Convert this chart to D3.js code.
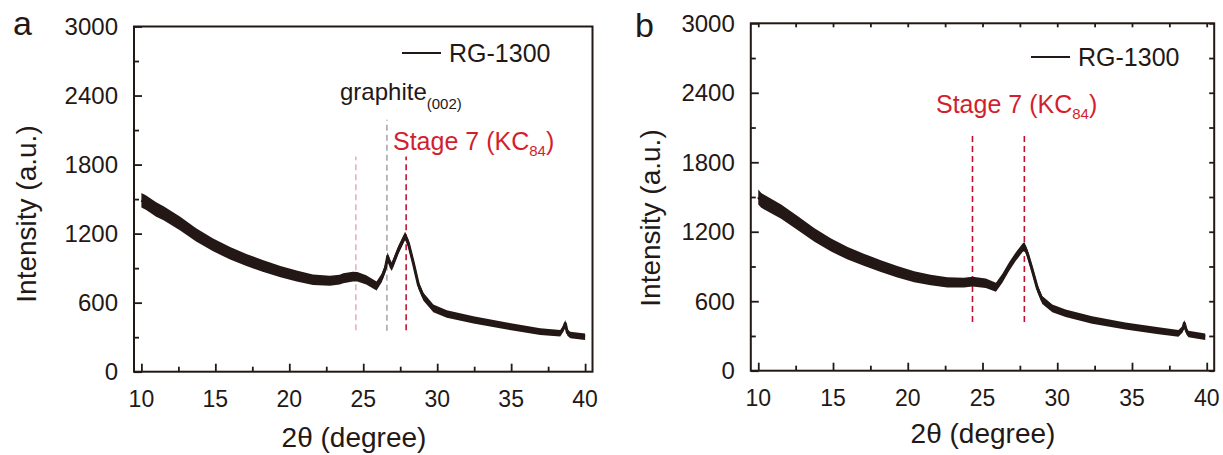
<!DOCTYPE html>
<html>
  <head>
    <meta charset="utf-8">
    <title>XRD RG-1300</title>
    <script src="https://cdn.jsdelivr.net/npm/d3@7"></script>
	<style>
		body { margin:0; background:white; }
		text { font-family: "Liberation Sans", Arial, sans-serif; }
	</style>
  </head>
  <body>
	<svg></svg>
    <script>
	// 2θ / intensity
	var thetaA = [10.0, 10.3, 11.0, 11.5, 12.6, 13.7, 14.85, 16.0, 17.1, 18.2, 19.4, 20.5, 21.6, 22.75, 23.4, 23.65, 24.3, 24.6, 25.2, 25.9, 26.25, 26.5, 26.65, 26.8, 26.93, 27.37, 27.83, 28.05, 28.39, 28.73, 29.07, 29.74, 30.65, 32.45, 34.71, 36.97, 38.32, 38.55, 38.66, 38.8, 39.0, 40.0];
	var intA   = [1490, 1470, 1410, 1377, 1290, 1189, 1102, 1030, 971, 919, 870, 832, 800, 790, 800, 812, 826, 826, 797, 745, 815, 900, 1000, 940, 913, 1058, 1180, 1117, 943, 754, 652, 551, 502, 450, 397, 348, 334, 380, 420, 340, 319, 304];
	// panel b
	var thetaB = [10.0, 10.2, 11.53, 12.65, 13.76, 14.87, 15.98, 17.1, 18.2, 19.3, 20.43, 21.53, 22.65, 23.76, 24.33, 25.22, 25.9, 26.33, 26.78, 27.22, 27.67, 27.8, 28.0, 28.33, 28.67, 29.0, 29.67, 30.56, 32.33, 34.56, 36.78, 38.11, 38.4, 38.5, 38.65, 38.78, 39.9];
	var intB   = [1500, 1470, 1373, 1273, 1172, 1085, 1014, 956, 904, 855, 812, 783, 762, 760, 769, 755, 720, 798, 898, 984, 1060, 1075, 1014, 870, 712, 610, 539, 496, 438, 386, 345, 323, 360, 410, 340, 317, 294];

	var xTicks = [10, 15, 20, 25, 30, 35, 40];
	var yTicks = [0, 600, 1200, 1800, 2400, 3000];

	// dashed reference lines: 2θ and intensity extent
	var refA = [[24.5, 360, 1870], [26.6, 355, 2190], [27.9, 360, 1870]];
	var refB = [[24.33, 420, 2035], [27.8, 420, 2035]];

	var width = 1223, height = 455;
	var svg = d3.select("svg").attr("width", width).attr("height", height);
	var ink = "#231815";

	function panel(o) {
		var x = d3.scaleLinear().domain([9.5, 40.5]).range([o.left, o.right]);
		var y = d3.scaleLinear().domain([0, 3000]).range([o.bottom, o.top]);
		var g = svg.append("g");
		// half-width of the noisy band, in intensity units
		var spread = d3.scaleLinear().domain([10, 20, 30, 40]).range([64, 48, 33, 28]);

		// reference lines under the curve
		o.refs.forEach(function(r, i) {
			g.append("line")
				.attr("x1", x(r[0])).attr("x2", x(r[0]))
				.attr("y1", y(r[1])).attr("y2", y(r[2]))
				.attr("stroke", o.refColors[i])
				.attr("stroke-width", 1.6)
				.attr("stroke-dasharray", "6,4");
		});

		var pts = o.theta.map(function(t, i) { return [t, o.val[i]]; });
		g.append("path").datum(pts)
			.attr("fill", ink)
			.attr("d", d3.area()
				.x(function(d) { return x(d[0]); })
				.y0(function(d) { return y(d[1] - spread(d[0])); })
				.y1(function(d) { return y(d[1] + spread(d[0])); }));
		g.append("path").datum(pts)
			.attr("fill", "none").attr("stroke", ink).attr("stroke-width", 3)
			.attr("stroke-linejoin", "round")
			.attr("d", d3.line().x(function(d) { return x(d[0]); }).y(function(d) { return y(d[1]); }));

		// axes
		var minorX = d3.range(10, 40.1, 2.5).filter(function(v) { return v % 5 != 0; });
		var minorY = d3.range(300, 3000, 600);
		g.append("g").attr("transform", "translate(0," + o.bottom + ")")
			.call(d3.axisTop(x).tickValues(xTicks).tickSize(8).tickFormat(""));
		g.append("g").attr("transform", "translate(0," + o.bottom + ")")
			.call(d3.axisTop(x).tickValues(minorX).tickSize(5).tickFormat(""));
		g.append("g").attr("transform", "translate(" + o.left + ",0)")
			.call(d3.axisRight(y).tickValues(yTicks).tickSize(8).tickFormat(""));
		g.append("g").attr("transform", "translate(" + o.left + ",0)")
			.call(d3.axisRight(y).tickValues(minorY).tickSize(5).tickFormat(""));
		if (o.allTicks) {
			g.append("g").attr("transform", "translate(0," + o.top + ")")
				.call(d3.axisBottom(x).tickValues(xTicks.concat(minorX)).tickSize(4).tickFormat(""));
			g.append("g").attr("transform", "translate(" + o.right + ",0)")
				.call(d3.axisLeft(y).tickValues(yTicks.concat(minorY)).tickSize(5).tickFormat(""));
		}
		g.selectAll(".domain").remove();
		g.selectAll(".tick line").attr("stroke", ink).attr("stroke-width", 1.8);

		g.append("rect")
			.attr("x", o.left).attr("y", o.top)
			.attr("width", o.right - o.left).attr("height", o.bottom - o.top)
			.attr("fill", "none").attr("stroke", ink).attr("stroke-width", 2);

		g.selectAll(".xl").data(xTicks).enter().append("text")
			.attr("x", function(d) { return x(d); })
			.attr("y", o.bottom + 35)
			.attr("text-anchor", "middle")
			.style("font-size", "23px").attr("fill", ink)
			.text(function(d) { return d; });
		g.selectAll(".yl").data(yTicks).enter().append("text")
			.attr("x", o.left - 16)
			.attr("y", function(d) { return y(d); })
			.attr("dy", "0.36em")
			.attr("text-anchor", "end")
			.style("font-size", "24px").attr("fill", ink)
			.text(function(d) { return d; });

		g.append("text")
			.attr("transform", "translate(" + o.ytX + "," + o.ytY + ") rotate(-90)")
			.attr("text-anchor", "middle")
			.style("font-size", "28px").attr("fill", ink)
			.text("Intensity (a.u.)");
		g.append("text")
			.attr("x", o.xtX).attr("y", o.xtY)
			.attr("text-anchor", "middle")
			.style("font-size", "28px").attr("fill", ink)
			.text("2θ (degree)");

		g.append("text")
			.attr("x", o.letter[0]).attr("y", o.letter[1])
			.style("font-size", "34px").attr("fill", ink)
			.text(o.name);

		// legend
		g.append("line")
			.attr("x1", o.leg[0]).attr("x2", o.leg[0] + 39)
			.attr("y1", o.leg[1]).attr("y2", o.leg[1])
			.attr("stroke", ink).attr("stroke-width", 2);
		g.append("text")
			.attr("x", o.leg[0] + 47).attr("y", o.leg[1] + 9)
			.style("font-size", "25px").attr("fill", ink)
			.text("RG-1300");

		var st = g.append("text")
			.attr("x", o.stage[0]).attr("y", o.stage[1])
			.style("font-size", "25px").attr("fill", "#d21f30");
		st.append("tspan").text("Stage 7 (KC");
		st.append("tspan").attr("dy", 6).style("font-size", "15px").text("84");
		st.append("tspan").attr("dy", -6).text(")");
		return g;
	}

	var ga = panel({
		name: "a", letter: [13, 35],
		left: 134, right: 592.5, top: 26.5, bottom: 371.7,
		theta: thetaA, val: intA, refs: refA,
		refColors: ["#eab0b6", "#a8a8a8", "#c4122e"],
		ytX: 36, ytY: 214, xtX: 354, xtY: 447,
		leg: [402, 53], stage: [393, 150], allTicks: false
	});
	var gr = ga.append("text").attr("x", 340).attr("y", 100)
		.style("font-size", "24px").attr("fill", ink);
	gr.append("tspan").text("graphite");
	gr.append("tspan").attr("dy", 9).style("font-size", "15px").text("(002)");

	panel({
		name: "b", letter: [635, 37],
		left: 750.8, right: 1214.2, top: 23.3, bottom: 370.7,
		theta: thetaB, val: intB, refs: refB,
		refColors: ["#c4122e", "#c4122e"],
		ytX: 660, ytY: 218, xtX: 983, xtY: 443,
		leg: [1031, 57], stage: [936, 113], allTicks: true
	});
    </script>
  </body>
</html>
